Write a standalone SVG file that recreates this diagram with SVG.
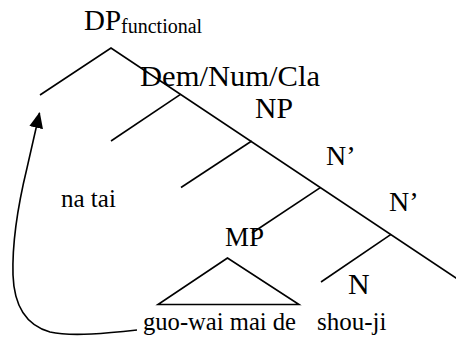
<svg xmlns="http://www.w3.org/2000/svg" width="456" height="338" viewBox="0 0 456 338">
  <style>
    .lbl { font-family: "Liberation Serif", "Times New Roman", serif; fill: #000; }
    .big { font-size: 29px; }
    .sub { font-size: 20px; }
    .word { font-size: 25px; }
    .edge { stroke: #000; stroke-width: 1.6; fill: none; stroke-linecap: butt; }
  </style>
  <defs>
    <marker id="arrow" viewBox="0 0 16 14" refX="15" refY="7" markerWidth="16" markerHeight="14" markerUnits="userSpaceOnUse" orient="auto">
      <path d="M0,0 L16,7 L0,14 Z" fill="#000"/>
    </marker>
  </defs>

  <!-- tree branches and movement arrow -->
  <g id="connectors">
    <path class="edge" d="M40,95 L111,48 L458,279.3"/>
    <path class="edge" d="M180.5,94.3 L111,141"/>
    <path class="edge" d="M251.7,141 L181,187.5"/>
    <path class="edge" d="M320.3,187.7 L252,233"/>
    <path class="edge" d="M391,234.3 L321,282"/>
    <path class="edge" marker-end="url(#arrow)" d="M137,330 C110,333 72,337 50,332 C25,325 14,305 13,275 C12,240 18,205 27,168 L39.5,113"/>
  </g>

  <g id="dp">
    <text class="lbl big" x="84" y="30">DP<tspan class="sub" dy="3">functional</tspan></text>
  </g>
  <g id="dem-num-cla">
    <text class="lbl big" x="140" y="86" textLength="180" lengthAdjust="spacingAndGlyphs">Dem/Num/Cla</text>
  </g>
  <g id="np">
    <text class="lbl big" x="255" y="118" textLength="38" lengthAdjust="spacingAndGlyphs">NP</text>
  </g>
  <g id="n-bar-1">
    <text class="lbl" font-size="28" x="326" y="165">N’</text>
  </g>
  <g id="n-bar-2">
    <text class="lbl" font-size="28" x="389" y="211">N’</text>
  </g>
  <g id="mp">
    <text class="lbl" font-size="27" x="225" y="246">MP</text>
    <path class="edge" d="M227.5,258 L158,304.5 L299,304.5 Z"/>
  </g>
  <g id="n">
    <text class="lbl" font-size="30" x="348" y="294">N</text>
  </g>
  <g id="na-tai">
    <text class="lbl word" x="61" y="207">na tai</text>
  </g>
  <g id="guo-wai-mai-de">
    <text class="lbl word" x="143" y="330" textLength="153" lengthAdjust="spacingAndGlyphs">guo-wai mai de</text>
  </g>
  <g id="shou-ji">
    <text class="lbl word" x="317" y="330">shou-ji</text>
  </g>
</svg>
